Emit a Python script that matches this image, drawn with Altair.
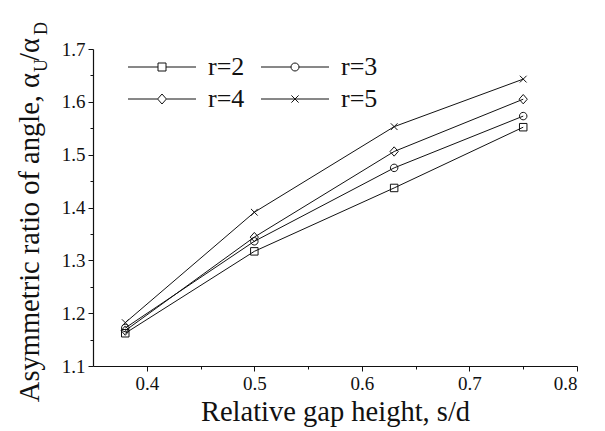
import altair as alt
import pandas as pd

# ---- data ----
x_vals = [0.38, 0.50, 0.63, 0.75]
r_labels = ["r=2", "r=3", "r=4", "r=5"]
r2 = [1.162, 1.317, 1.437, 1.552]
r3 = [1.172, 1.336, 1.475, 1.573]
r4 = [1.167, 1.344, 1.506, 1.605]
r5 = [1.182, 1.391, 1.553, 1.643]
x_ticks = [0.4, 0.5, 0.6, 0.7, 0.8]
x_minor = [0.45, 0.55, 0.65, 0.75]
y_ticks = [1.1, 1.2, 1.3, 1.4, 1.5, 1.6, 1.7]
y_minor = [1.15, 1.25, 1.35, 1.45, 1.55, 1.65]

rows = []
for lab, vals in zip(r_labels, [r2, r3, r4, r5]):
    for xv, yv in zip(x_vals, vals):
        rows.append({"s": xv, "v": yv, "r": lab})
df = pd.DataFrame(rows)

FONT = "Liberation Serif"
INK = "#111111"

xs = alt.Scale(domain=[0.35, 0.8], nice=False, zero=False)
ys = alt.Scale(domain=[1.1, 1.7], nice=False, zero=False)

marker_paths = [
    "M-1,-1H1V1H-1Z",
    "M1,0A1,1,0,1,1,-1,0A1,1,0,1,1,1,0Z",
    "M0,-1.25L1.1,0L0,1.25L-1.1,0Z",
    "M-0.9,-0.9L0.9,0.9M0.9,-0.9L-0.9,0.9",
]
legend_paths = [
    "M-8.5,0H-1M1,0H8.5M-1,-1H1V1H-1Z",
    "M-8.5,0H-1M1,0H8.5M1,0A1,1,0,1,1,-1,0A1,1,0,1,1,1,0Z",
    "M-8.5,0H-1.1M1.1,0H8.5M0,-1.25L1.1,0L0,1.25L-1.1,0Z",
    "M-8.5,0H8.5M-0.9,-0.9L0.9,0.9M0.9,-0.9L-0.9,0.9",
]

major_x_axis = alt.Axis(values=x_ticks, format=".1f", orient="bottom",
                        title="Relative gap height, s/d", titleFont=FONT,
                        titleFontSize=28.5, titleFontWeight="normal",
                        titleColor=INK, titlePadding=4, tickSize=5)
major_y_axis = alt.Axis(values=y_ticks, format=".1f", orient="left",
                        title=None, tickSize=5)
minor_x_axis = alt.Axis(values=x_minor, orient="bottom", labels=False,
                        domain=False, tickSize=3, title=None)
minor_y_axis = alt.Axis(values=y_minor, orient="left", labels=False,
                        domain=False, tickSize=3, title=None)

lines = alt.Chart(df).mark_line(color=INK, strokeWidth=1).encode(
    x=alt.X("s:Q", scale=xs, axis=major_x_axis),
    y=alt.Y("v:Q", scale=ys, axis=major_y_axis),
    detail="r:N",
)

points = alt.Chart(df).mark_point(filled=False, color=INK, size=56,
                                  strokeWidth=1, opacity=1).encode(
    x=alt.X("s:Q", scale=xs, axis=minor_x_axis),
    y=alt.Y("v:Q", scale=ys, axis=minor_y_axis),
    shape=alt.Shape("r:N", scale=alt.Scale(domain=r_labels, range=marker_paths),
                    legend=None),
)

legend_layer = alt.Chart(df).transform_filter("false").mark_point(
    filled=False, color=INK, size=64, strokeWidth=1, opacity=1
).encode(
    x=alt.X("s:Q", scale=xs, axis=None),
    y=alt.Y("v:Q", scale=ys, axis=None),
    shape=alt.Shape(
        "r:N",
        scale=alt.Scale(domain=r_labels, range=legend_paths),
        legend=alt.Legend(
            title=None, orient="none", legendX=56, legendY=5, columns=2,
            direction="horizontal",
            symbolSize=64, symbolStrokeWidth=1, symbolStrokeColor=INK,
            symbolFillColor="transparent", labelFont=FONT, labelFontSize=26,
            labelColor=INK, labelOffset=33, columnPadding=14, rowPadding=6,
            padding=0,
        ),
    ),
)

title_df = pd.DataFrame({"k": [0]})
t_main = alt.Chart(title_df).mark_text(
    text="Asymmetric ratio of angle, α", angle=270, align="right",
    baseline="alphabetic", font=FONT, fontSize=28.5, color=INK
).encode(x=alt.value(-54), y=alt.value(24))
t_u = alt.Chart(title_df).mark_text(
    text="U", angle=270, align="left", baseline="alphabetic", font=FONT,
    fontSize=18, color=INK
).encode(x=alt.value(-46), y=alt.value(23))
t_slash = alt.Chart(title_df).mark_text(
    text="/α", angle=270, align="left", baseline="alphabetic", font=FONT,
    fontSize=28.5, color=INK
).encode(x=alt.value(-54), y=alt.value(12))
t_d = alt.Chart(title_df).mark_text(
    text="D", angle=270, align="left", baseline="alphabetic", font=FONT,
    fontSize=18, color=INK
).encode(x=alt.value(-46), y=alt.value(-14))

chart = alt.layer(lines, points, legend_layer, t_main, t_u, t_slash, t_d).resolve_scale(
    shape="independent"
).resolve_axis(
    x="independent", y="independent"
).properties(
    width=484, height=317,
    autosize=alt.AutoSizeParams(type="none"),
    padding={"left": 93, "top": 49, "right": 28, "bottom": 65},
).configure_view(stroke=None).configure_axis(
    grid=False, domainColor=INK, domainWidth=1.2, tickColor=INK, tickWidth=1,
    labelFont=FONT, labelFontSize=19, labelColor=INK, labelPadding=3,
)

chart.save("out.html", embed_options={"renderer": "svg", "actions": False})
